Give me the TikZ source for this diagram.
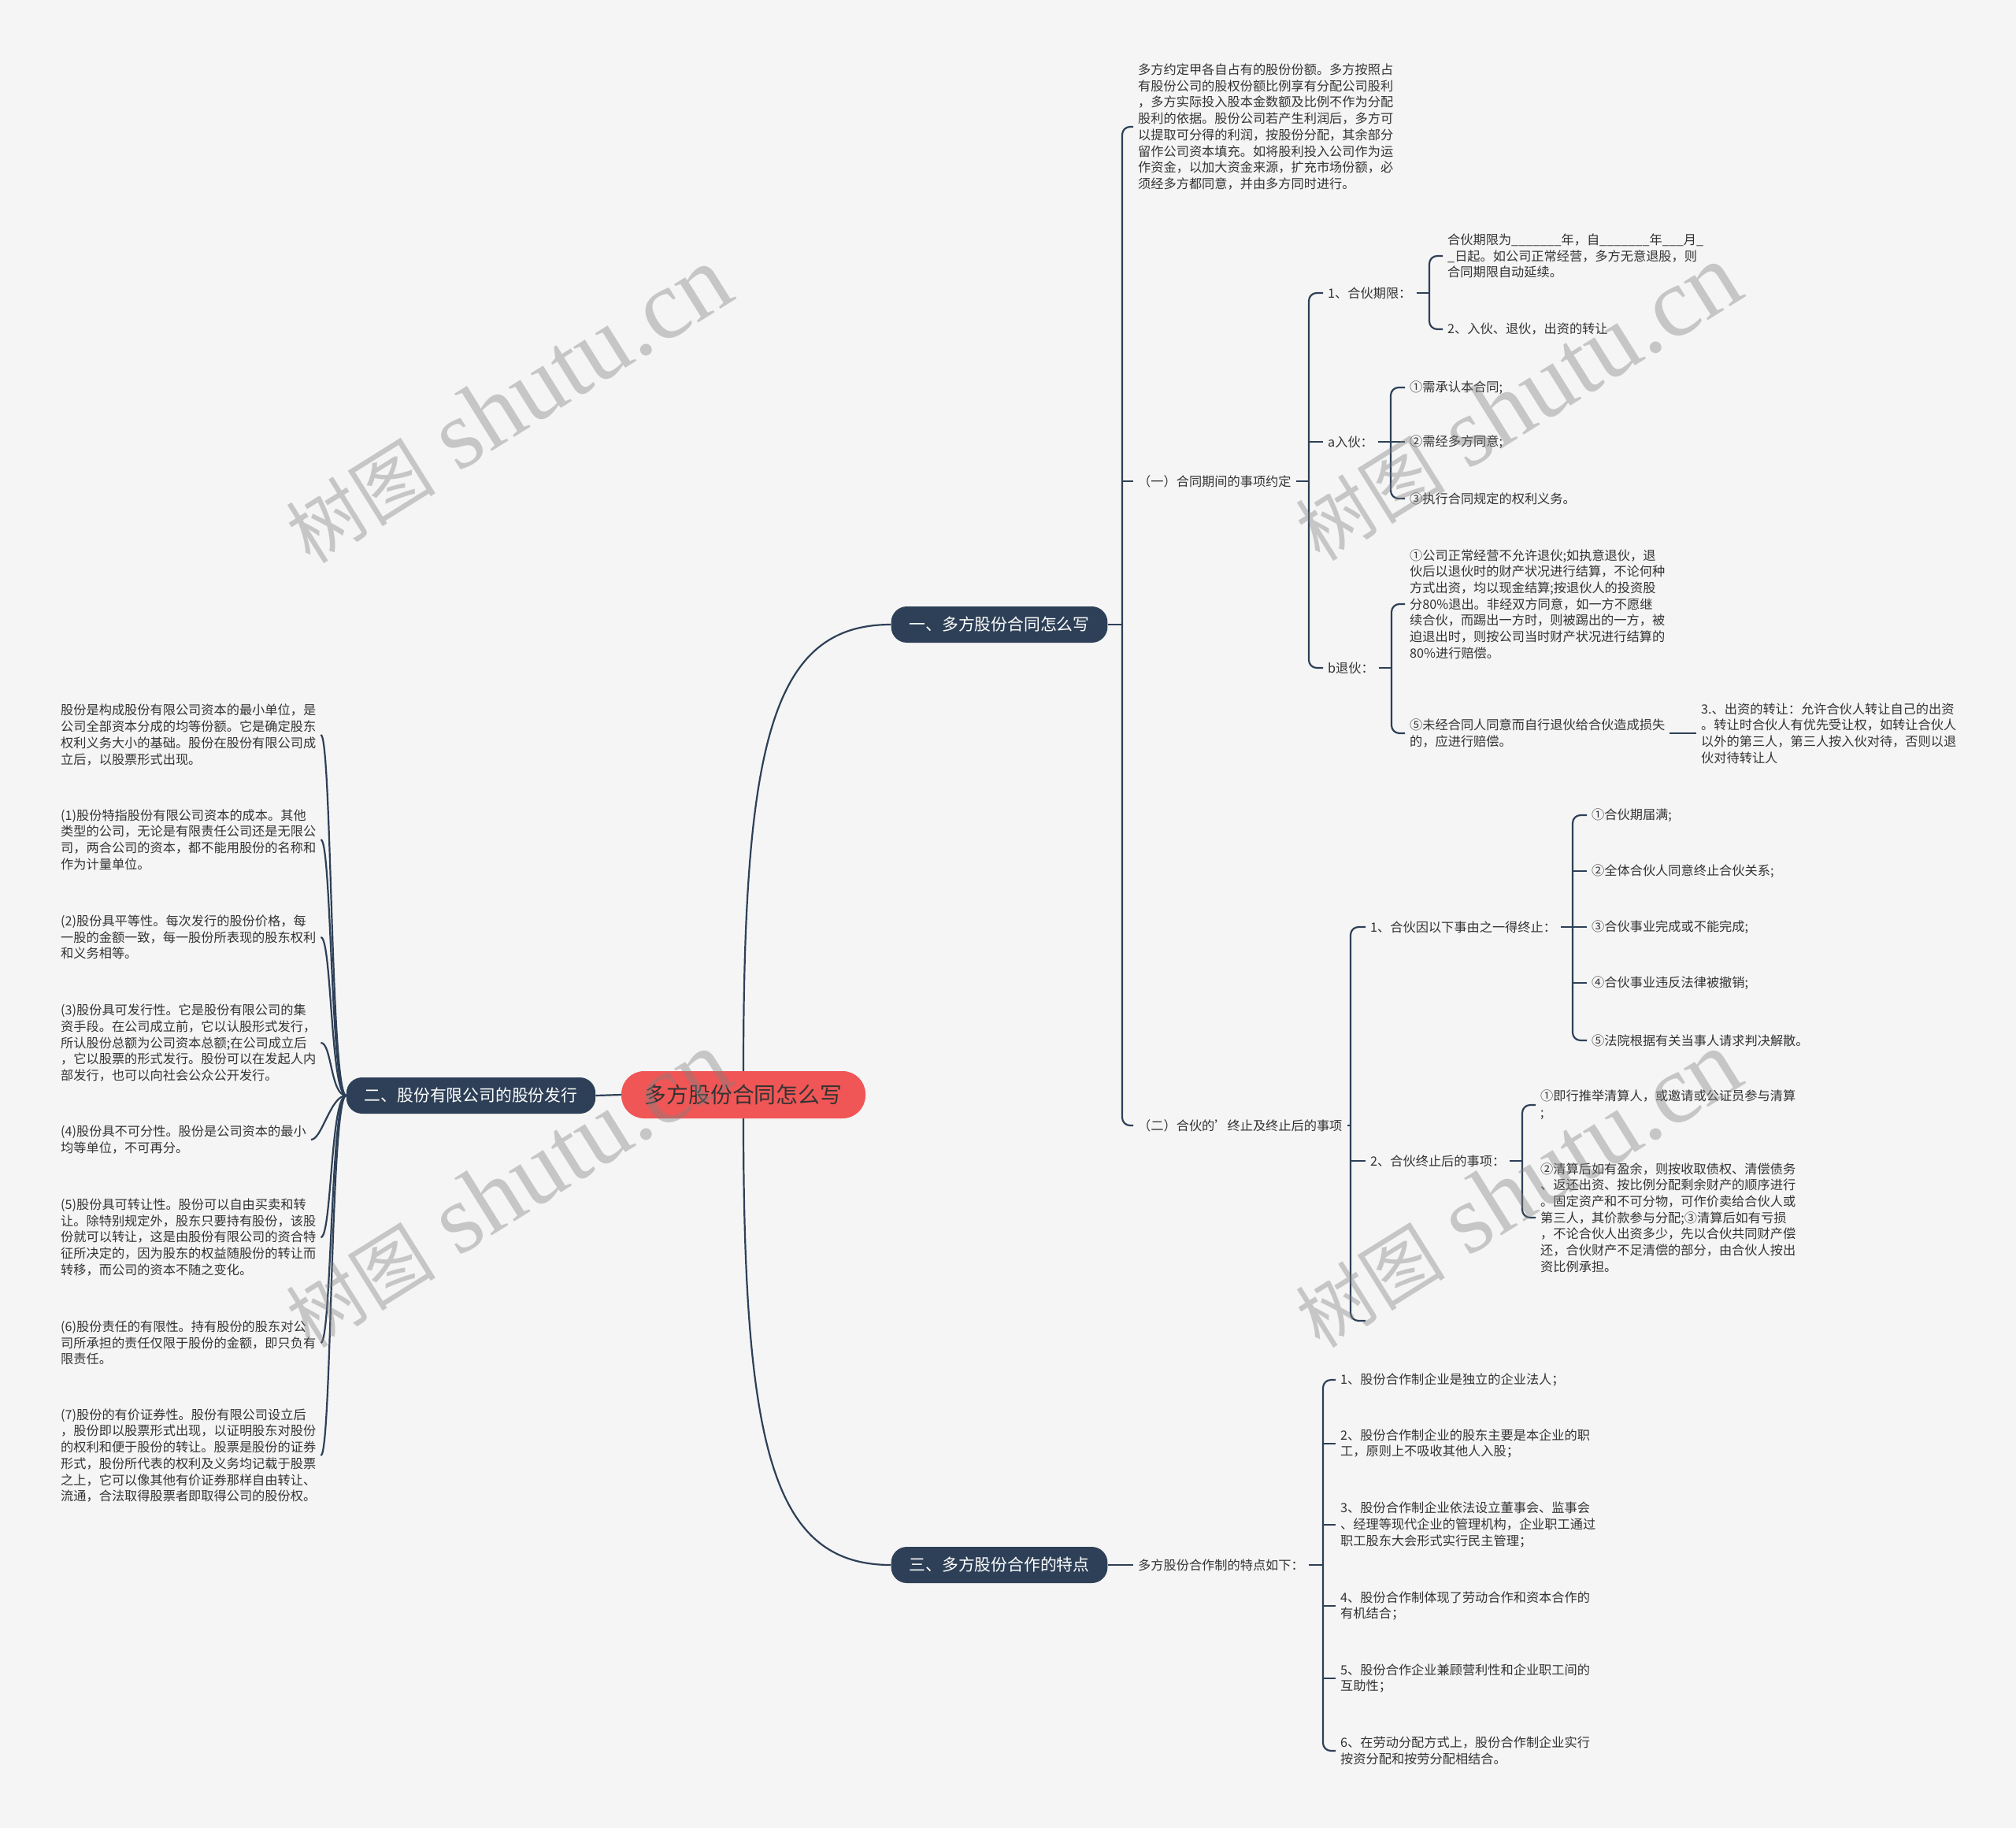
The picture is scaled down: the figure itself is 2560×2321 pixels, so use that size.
\documentclass[tikz,border=0pt]{standalone}
\usepackage{fontspec}
\setmainfont{Noto Sans CJK SC}
\newfontfamily\wmfont{Liberation Serif}
\usepackage{tikz}
\usetikzlibrary{positioning,calc}
\definecolor{topicblue}{HTML}{2E4057}
\definecolor{rootred}{HTML}{F05656}
\definecolor{txt}{HTML}{333333}
\definecolor{bg}{HTML}{F5F5F5}

\begin{document}
\begin{tikzpicture}[x=1pt, y=-1pt,
  topic/.style={fill=topicblue, text=white, rounded corners=20, minimum height=46, inner xsep=23, font=\fontsize{20.8}{24}\selectfont},
  rootbox/.style={fill=rootred, text=txt, rounded corners=29, minimum width=310, minimum height=60, font=\fontsize{27.8}{32}\selectfont},
  leaf/.style={anchor=west, align=left, inner xsep=6, inner ysep=1, text=txt, font=\fontsize{16.2}{20.7}\selectfont},
  link/.style={draw=topicblue, line width=2.2},
  wmark/.style={rotate=32, text=gray, text opacity=0.4}
]
\fill[bg] (0,0) rectangle (2560,2321);
\useasboundingbox (0,0) rectangle (2560,2321);

% bracket columns
\coordinate (k1) at (1425,0);
\coordinate (k2) at (1662,0);
\coordinate (k3) at (1815,0);
\coordinate (k4) at (1766,0);
\coordinate (k5) at (1767,0);
\coordinate (k6) at (1715,0);
\coordinate (k7) at (1997,0);
\coordinate (k8) at (1933,0);
\coordinate (k9) at (1680,0);

% main topics
\node[rootbox] (root) at (944,1390) {多方股份合同怎么写};
\node[topic] (t1) at (1269,793) {一、多方股份合同怎么写};
\node[topic] (t2) at (598,1391) {二、股份有限公司的股份发行};
\node[topic] (t3) at (1269,1987) {三、多方股份合作的特点};

% branch one
\node[leaf] (p0) at (1439,161) {多方约定甲各自占有的股份份额。多方按照占\\有股份公司的股权份额比例享有分配公司股利\\，多方实际投入股本金数额及比例不作为分配\\股利的依据。股份公司若产生利润后，多方可\\以提取可分得的利润，按股份分配，其余部分\\留作公司资本填充。如将股利投入公司作为运\\作资金，以加大资金来源，扩充市场份额，必\\须经多方都同意，并由多方同时进行。};
\node[leaf] (s1) at (1439,611) {（一）合同期间的事项约定};
\node[leaf] (s2) at (1439,1429) {（二）合伙的\symbol{39}终止及终止后的事项};

\node[leaf] (q1) at (1680,372) {1、合伙期限：};
\node[leaf] (q2) at (1680,561) {a入伙：};
\node[leaf] (q3) at (1680,848) {b退伙：};

\node[leaf] (r1) at (1832,325) {合伙期限为\_\_\_\_\_\_\_年，自\_\_\_\_\_\_\_年\_\_\_月\_\\\_日起。如公司正常经营，多方无意退股，则\\合同期限自动延续。};
\node[leaf] (r2) at (1832,418) {2、入伙、退伙，出资的转让};

\node[leaf] (a1) at (1784,492) {①需承认本合同;};
\node[leaf] (a2) at (1784,561) {②需经多方同意;};
\node[leaf] (a3) at (1784,633) {③执行合同规定的权利义务。};

\node[leaf] (b1) at (1784,767) {①公司正常经营不允许退伙;如执意退伙，退\\伙后以退伙时的财产状况进行结算，不论何种\\方式出资，均以现金结算;按退伙人的投资股\\分80\%退出。非经双方同意，如一方不愿继\\续合伙，而踢出一方时，则被踢出的一方，被\\迫退出时，则按公司当时财产状况进行结算的\\80\%进行赔偿。};
\node[leaf] (b2) at (1784,931) {⑤未经合同人同意而自行退伙给合伙造成损失\\的，应进行赔偿。};
\node[leaf] (b3) at (2154,931) {3.、出资的转让：允许合伙人转让自己的出资\\。转让时合伙人有优先受让权，如转让合伙人\\以外的第三人，第三人按入伙对待，否则以退\\伙对待转让人};

\node[leaf] (u1) at (1734,1177) {1、合伙因以下事由之一得终止：};
\node[leaf] (u2) at (1734,1474) {2、合伙终止后的事项：};
\coordinate (u3) at (1734,1677);

\node[leaf] (v1) at (2015,1035) {①合伙期届满;};
\node[leaf] (v2) at (2015,1106) {②全体合伙人同意终止合伙关系;};
\node[leaf] (v3) at (2015,1177) {③合伙事业完成或不能完成;};
\node[leaf] (v4) at (2015,1248) {④合伙事业违反法律被撤销;};
\node[leaf] (v5) at (2015,1321) {⑤法院根据有关当事人请求判决解散。};

\node[leaf] (w1) at (1950,1403) {①即行推举清算人，或邀请或公证员参与清算\\;};
\node[leaf] (w2) at (1950,1546) {②清算后如有盈余，则按收取债权、清偿债务\\、返还出资、按比例分配剩余财产的顺序进行\\。固定资产和不可分物，可作价卖给合伙人或\\第三人，其价款参与分配;③清算后如有亏损\\，不论合伙人出资多少，先以合伙共同财产偿\\还，合伙财产不足清偿的部分，由合伙人按出\\资比例承担。};

% branch three
\node[leaf] (m) at (1439,1987) {多方股份合作制的特点如下：};
\node[leaf] (n1) at (1696,1752) {1、股份合作制企业是独立的企业法人；};
\node[leaf] (n2) at (1696,1833) {2、股份合作制企业的股东主要是本企业的职\\工，原则上不吸收其他人入股；};
\node[leaf] (n3) at (1696,1936) {3、股份合作制企业依法设立董事会、监事会\\、经理等现代企业的管理机构，企业职工通过\\职工股东大会形式实行民主管理；};
\node[leaf] (n4) at (1696,2039) {4、股份合作制体现了劳动合作和资本合作的\\有机结合；};
\node[leaf] (n5) at (1696,2131) {5、股份合作企业兼顾营利性和企业职工间的\\互助性；};
\node[leaf] (n6) at (1696,2223) {6、在劳动分配方式上，股份合作制企业实行\\按资分配和按劳分配相结合。};

% branch two
\node[leaf] (c0) at (71,933) {股份是构成股份有限公司资本的最小单位，是\\公司全部资本分成的均等份额。它是确定股东\\权利义务大小的基础。股份在股份有限公司成\\立后，以股票形式出现。};
\node[leaf] (c1) at (71,1066) {(1)股份特指股份有限公司资本的成本。其他\\类型的公司，无论是有限责任公司还是无限公\\司，两合公司的资本，都不能用股份的名称和\\作为计量单位。};
\node[leaf] (c2) at (71,1190) {(2)股份具平等性。每次发行的股份价格，每\\一股的金额一致，每一股份所表现的股东权利\\和义务相等。};
\node[leaf] (c3) at (71,1324) {(3)股份具可发行性。它是股份有限公司的集\\资手段。在公司成立前，它以认股形式发行，\\所认股份总额为公司资本总额;在公司成立后\\，它以股票的形式发行。股份可以在发起人内\\部发行，也可以向社会公众公开发行。};
\node[leaf] (c4) at (71,1447) {(4)股份具不可分性。股份是公司资本的最小\\均等单位，不可再分。};
\node[leaf] (c5) at (71,1571) {(5)股份具可转让性。股份可以自由买卖和转\\让。除特别规定外，股东只要持有股份，该股\\份就可以转让，这是由股份有限公司的资合特\\征所决定的，因为股东的权益随股份的转让而\\转移，而公司的资本不随之变化。};
\node[leaf] (c6) at (71,1705) {(6)股份责任的有限性。持有股份的股东对公\\司所承担的责任仅限于股份的金额，即只负有\\限责任。};
\node[leaf] (c7) at (71,1848) {(7)股份的有价证券性。股份有限公司设立后\\，股份即以股票形式出现，以证明股东对股份\\的权利和便于股份的转让。股票是股份的证券\\形式，股份所代表的权利及义务均记载于股票\\之上，它可以像其他有价证券那样自由转让、\\流通，合法取得股票者即取得公司的股份权。};

% connectors
\draw[link] (root.north) .. controls +(0,-420) and +(-150,0) .. (t1.west);
\draw[link] (root.south) .. controls +(0,420) and +(-150,0) .. (t3.west);
\draw[link] (root.west) -- (t2.east);
\foreach \c in {c0,c1,c2,c3,c4,c5,c6,c7}
  \draw[link] (\c.east) .. controls +(14,0) and +(-20,0) .. (t2.west);

\draw[link] (t1.east) -- (t1.east -| k1);
\draw[link, rounded corners=10] (p0.west) -- (p0.west -| k1) -- (s2.west -| k1) -- (s2.west);
\draw[link] (s1.west) -- (s1.west -| k1);

\draw[link] (s1.east) -- (s1.east -| k2);
\draw[link, rounded corners=10] (q1.west) -- (q1.west -| k2) -- (q3.west -| k2) -- (q3.west);
\draw[link] (q2.west) -- (q2.west -| k2);

\draw[link] (q1.east) -- (q1.east -| k3);
\draw[link, rounded corners=10] (r1.west) -- (r1.west -| k3) -- (r2.west -| k3) -- (r2.west);

\draw[link] (q2.east) -- (q2.east -| k4);
\draw[link, rounded corners=10] (a1.west) -- (a1.west -| k4) -- (a3.west -| k4) -- (a3.west);
\draw[link] (a2.west) -- (a2.west -| k4);

\draw[link] (q3.east) -- (q3.east -| k5);
\draw[link, rounded corners=10] (b1.west) -- (b1.west -| k5) -- (b2.west -| k5) -- (b2.west);
\draw[link] (b2.east) -- (b3.west);

\draw[link] (s2.east) -- (s2.east -| k6);
\draw[link, rounded corners=10] (u1.west) -- (u1.west -| k6) -- (u3 -| k6) -- (u3);
\draw[link] (u2.west) -- (u2.west -| k6);

\draw[link] (u1.east) -- (u1.east -| k7);
\draw[link, rounded corners=10] (v1.west) -- (v1.west -| k7) -- (v5.west -| k7) -- (v5.west);
\foreach \v in {v2,v3,v4}
  \draw[link] (\v.west) -- (\v.west -| k7);

\draw[link] (u2.east) -- (u2.east -| k8);
\draw[link, rounded corners=10] (w1.west) -- (w1.west -| k8) -- (w2.west -| k8) -- (w2.west);

\draw[link] (t3.east) -- (m.west);
\draw[link] (m.east) -- (m.east -| k9);
\draw[link, rounded corners=10] (n1.west) -- (n1.west -| k9) -- (n6.west -| k9) -- (n6.west);
\foreach \n in {n2,n3,n4,n5}
  \draw[link] (\n.west) -- (\n.west -| k9);

% watermarks
\node[wmark] (wm1) at (645,514) {{\fontsize{95}{110}\selectfont 树图}\hspace{30pt}{\wmfont\fontsize{125}{130}\selectfont shutu.cn}};
\node[wmark] (wm2) at (1927,511) {{\fontsize{95}{110}\selectfont 树图}\hspace{30pt}{\wmfont\fontsize{125}{130}\selectfont shutu.cn}};
\node[wmark] (wm3) at (645,1510) {{\fontsize{95}{110}\selectfont 树图}\hspace{30pt}{\wmfont\fontsize{125}{130}\selectfont shutu.cn}};
\node[wmark] (wm4) at (1927,1510) {{\fontsize{95}{110}\selectfont 树图}\hspace{30pt}{\wmfont\fontsize{125}{130}\selectfont shutu.cn}};
\end{tikzpicture}
\end{document}
